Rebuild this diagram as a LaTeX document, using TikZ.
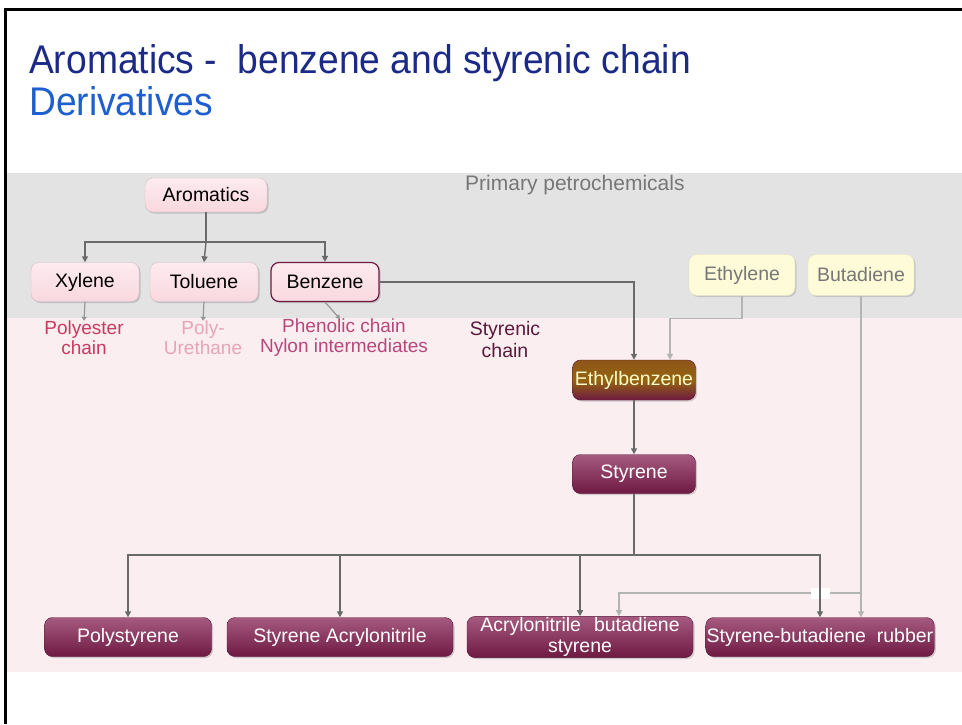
\documentclass[tikz,border=0pt]{standalone}
\usepackage{fontspec}
\setmainfont{Liberation Sans}
\usetikzlibrary{arrows.meta,shadows,calc}
\definecolor{titleblue}{HTML}{1B2A86}
\definecolor{subblue}{HTML}{1E5FD0}
\definecolor{bandgray}{HTML}{E3E3E3}
\definecolor{bandpink}{HTML}{FAEEF1}
\definecolor{conn}{HTML}{6A6A6A}
\definecolor{lconn}{HTML}{B4B4B4}
\definecolor{maroon}{HTML}{6E1A42}
\definecolor{maroonlt}{HTML}{A65A80}
\definecolor{pinkbox}{HTML}{F9D8E0}
\definecolor{pinkboxlt}{HTML}{FDEBEF}
\definecolor{yelbox}{HTML}{FDFBD8}
\definecolor{gold}{HTML}{95640F}
\definecolor{polyred}{HTML}{C83A62}
\definecolor{urepink}{HTML}{E8A4B8}
\definecolor{phenpink}{HTML}{B8487A}
\definecolor{stydark}{HTML}{5A1A3A}
\definecolor{primgray}{HTML}{777777}
\tikzset{
  x=1pt,y=-1pt,
  pinknode/.style={rounded corners=8pt, minimum width=108pt, minimum height=39pt,
    top color=pinkboxlt, bottom color=pinkbox, draw=pinkbox!70!gray,
    drop shadow={shadow xshift=1.5pt,shadow yshift=-1.5pt,opacity=0.35},
    font=\fontsize{19.5}{21}\selectfont, text=black},
  yelnode/.style={rounded corners=8pt, minimum width=106pt, minimum height=41pt,
    fill=yelbox, draw=yelbox!80!gray,
    drop shadow={shadow xshift=1.5pt,shadow yshift=-1.5pt,opacity=0.3},
    font=\fontsize{19.5}{21}\selectfont, text=primgray},
  marnode/.style={rounded corners=8pt, minimum height=39pt,
    top color=maroonlt, bottom color=maroon, draw=maroon!80!black,
    drop shadow={shadow xshift=1.5pt,shadow yshift=-1.5pt,opacity=0.35},
    font=\fontsize{19.5}{21}\selectfont, text=white, inner sep=1pt},
  lbl/.style={align=center, font=\fontsize{19}{20}\selectfont, inner sep=0pt},
  carrow/.style={draw=conn, line width=1.4pt, -{Triangle[width=6pt,length=6pt]}},
  cline/.style={draw=conn, line width=1.4pt},
  larrow/.style={draw=lconn, line width=1.3pt, -{Triangle[width=6pt,length=6pt]}},
  lline/.style={draw=lconn, line width=1.3pt},
  sarrow/.style={draw=conn!70, line width=1.2pt, -{Triangle[width=5pt,length=4pt]}},
}
\begin{document}
\begin{tikzpicture}
\useasboundingbox (0,0) rectangle (962,724);
\fill[white] (0,0) rectangle (962,724);
% bands
\fill[bandgray] (7,173) rectangle (962,318);
\fill[bandpink] (7,318) rectangle (962,672);
% frame
\draw[black, line width=3pt] (5.5,724) -- (5.5,9.5) -- (962,9.5);
% title
\node[anchor=west, text=titleblue, font=\fontsize{40}{44}\selectfont, xscale=0.93, inner sep=0] (title) at (29,63) {Aromatics -\ \ benzene and styrenic chain};
\node[anchor=west, text=subblue, font=\fontsize{40}{44}\selectfont, xscale=0.93, inner sep=0] (subtitle) at (29,101) {Derivatives};
\node[text=primgray, font=\fontsize{21}{23}\selectfont, anchor=west, inner sep=0] (prim) at (465,185) {Primary petrochemicals};
% nodes
\node[pinknode, minimum width=122pt, minimum height=34pt] (arom) at (206,195) {Aromatics};
\node[pinknode] (xyl) at (85,282) {Xylene};
\node[pinknode] (tol) at (204,282) {Toluene};
\node[pinknode, draw=maroon, line width=1.2pt] (ben) at (325,282) {Benzene};
\node[yelnode] (eth) at (742,275) {Ethylene};
\node[yelnode] (but) at (861,275) {Butadiene};
\node[marnode, minimum width=123pt, minimum height=40pt, top color=gold!80!maroon, bottom color=maroon, middle color=gold, text=yellow!20] (ebz) at (634,380) {Ethylbenzene};
\node[marnode, minimum width=123pt] (sty) at (634,474) {Styrene};
\node[marnode, minimum width=167pt] (ps) at (128,637) {Polystyrene};
\node[marnode, minimum width=226pt] (san) at (340,637) {Styrene Acrylonitrile};
\node[marnode, minimum width=226pt, text width=224pt, align=center, font=\fontsize{19.5}{21}\selectfont] (abs) at (580,637) {Acrylonitrile\ \ butadiene\\styrene};
\node[marnode, minimum width=227pt] (sbr) at (820,637) {Styrene-butadiene\ \ rubber};
% labels
\node[lbl, text=polyred] (lpoly) at (84,338) {Polyester\\chain};
\node[lbl, text=urepink] (lure) at (203,338) {Poly-\\Urethane};
\node[lbl, text=phenpink] (lphen) at (344,338) {Phenolic chain\\Nylon intermediates};
\node[lbl, text=stydark, font=\fontsize{19.5}{22}\selectfont] (lsty) at (505,340) {Styrenic\\chain};
% coordinates
\coordinate (j1) at (206,242);
\coordinate (j2) at (634,555);
\coordinate (j3) at (860,593);
% aromatics tree
\draw[cline] (arom.south) -- (j1);
\draw[carrow] (j1) -| (xyl.north);
\draw[carrow] (j1) -- (tol.north);
\draw[carrow] (j1) -| (ben.north);
% small arrows to labels
\draw[sarrow] (xyl.south) -- (lpoly.north);
\draw[sarrow] (tol.south) -- (lure.north);
\draw[sarrow] (ben.south) -- ($(lphen.north)+(-4,0)$);
% benzene to ethylbenzene
\draw[carrow] (ben.east) -| (ebz.north);
% ethylene to ethylbenzene
\draw[larrow] (eth.south) |- ++(-72,23) -- ($(ebz.north)+(36,0)$);
% ethylbenzene to styrene
\draw[carrow] (ebz.south) -- (sty.north);
% butadiene
\draw[larrow] (but.south) -- (but.south |- sbr.north);
\draw[larrow] (j3) -| ($(abs.north)+(39,0)$);
\fill[white] (811,588) rectangle (830,599);
% styrene tree
\draw[cline] (sty.south) -- (j2);
\draw[carrow] (j2) -| (ps.north);
\draw[carrow] (j2) -| (san.north);
\draw[carrow] (j2) -| (abs.north);
\draw[carrow] (j2) -| (sbr.north);
\end{tikzpicture}
\end{document}
